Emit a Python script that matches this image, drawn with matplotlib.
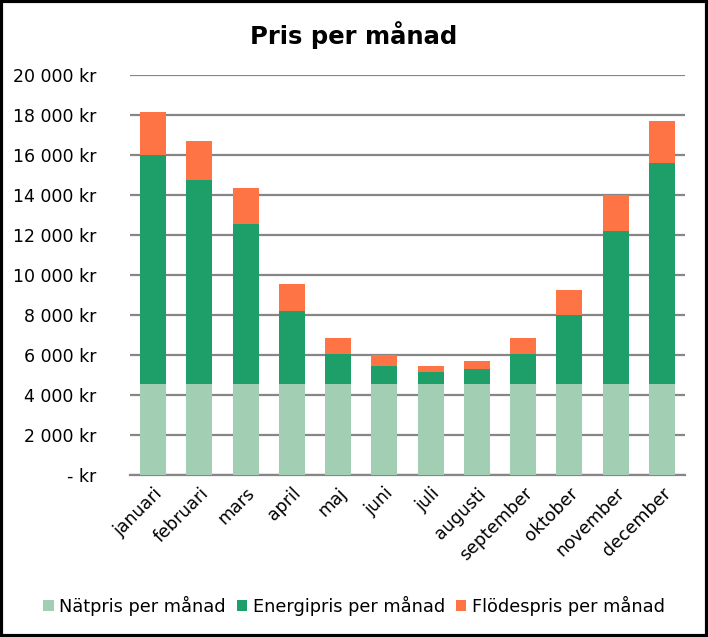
import matplotlib.pyplot as plt
import numpy as np
from matplotlib.ticker import FuncFormatter
from matplotlib.patches import Rectangle

plt.rcParams['font.family'] = ['DejaVu Sans']

months = ['januari', 'februari', 'mars', 'april', 'maj', 'juni', 'juli',
          'augusti', 'september', 'oktober', 'november', 'december']
natpris = [4530] * 12
energipris = [11470, 10210, 8010, 3670, 1500, 920, 600, 750, 1500, 3460, 7660, 11080]
flodespris = [2130, 1960, 1800, 1340, 800, 520, 300, 420, 800, 1250, 1800, 2090]

fig = plt.figure(figsize=(7.08, 6.37), dpi=100)
ax = fig.add_axes([130/708, 1 - 474.5/637, 555/708, 399.5/637])

x = np.arange(len(months))
w = 0.56
c_nat, c_en, c_fl = '#A2CEB3', '#1E9E68', '#FF7444'
ax.bar(x, natpris, w, color=c_nat, label='Nätpris per månad', zorder=3)
ax.bar(x, energipris, w, bottom=natpris, color=c_en, label='Energipris per månad', zorder=3)
bottom2 = np.array(natpris) + np.array(energipris)
ax.bar(x, flodespris, w, bottom=bottom2, color=c_fl, label='Flödespris per månad', zorder=3)

ax.set_xlim(-0.5, 11.5)
ax.set_ylim(0, 20000)
ax.set_yticks(np.arange(0, 20001, 2000))

def fmt(v, pos):
    if v == 0:
        return '- kr'
    return f'{v:,.0f}'.replace(',', ' ') + ' kr'

ax.yaxis.set_major_formatter(FuncFormatter(fmt))
ax.grid(axis='y', color='#868686', linewidth=1.6, zorder=0)
for s in ['top', 'right', 'left']:
    ax.spines[s].set_visible(False)
ax.spines['bottom'].set_color('#868686')
ax.spines['bottom'].set_linewidth(1.6)
ax.tick_params(axis='y', length=0, pad=24, labelsize=12.5)
ax.tick_params(axis='x', length=0, pad=7, labelsize=12.5)
ax.set_xticks(x)
ax.set_xticklabels(months, rotation=45, ha='right', rotation_mode='anchor')

fig.text(0.5, 1 - 35/637, 'Pris per månad', ha='center', va='center',
         fontsize=17.5, fontweight='bold')

fig.legend(loc='center', bbox_to_anchor=(0.5, 1 - 606/637), ncol=3,
           frameon=False, fontsize=12.8, handlelength=0.6, handleheight=0.6,
           handletextpad=0.3, columnspacing=0.6)

fig.patches.append(Rectangle((0.002, 0.002), 0.996, 0.996, transform=fig.transFigure,
                             fill=False, edgecolor='black', linewidth=3))

fig.savefig('out.png', dpi=100)
